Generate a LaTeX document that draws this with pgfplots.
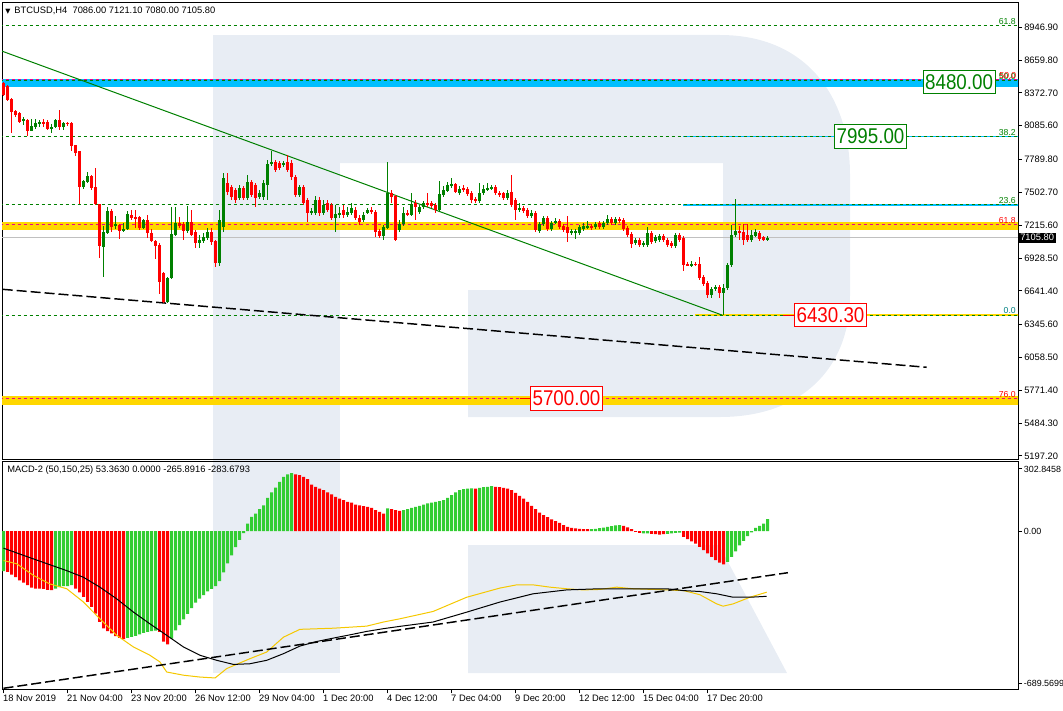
\documentclass[border=0pt]{standalone}
\usepackage{pgfplots}
\pgfplotsset{compat=1.18}
\usepackage{pgfplotstable}
\usepackage{fontspec}
\setmainfont{Liberation Sans}
\newfontfamily\symfont{DejaVu Sans}
\newfontfamily\narrowfont[FakeStretch=0.88]{Liberation Sans}

\definecolor{cgreen}{RGB}{0,128,0}
\definecolor{cred}{RGB}{255,0,0}
\definecolor{hgreen}{RGB}{50,205,50}
\definecolor{gold}{RGB}{255,215,0}
\definecolor{sig}{RGB}{245,200,0}
\definecolor{sky}{RGB}{0,191,255}
\definecolor{wm}{RGB}{232,237,244}
\definecolor{curgray}{RGB}{192,192,192}
\definecolor{fibteal}{RGB}{0,128,128}

% BTCUSD H4 candles: index, open, high, low, close
\pgfplotstableread{
i o h l c
0 8460 8468 8346 8355
1 8433 8442 8302 8311
2 8320 8328 8022 8206
3 8215 8224 8162 8180
4 8197 8206 8110 8118
5 8127 8162 8092 8145
6 8136 8145 7996 8040
7 8040 8145 8040 8084
8 8075 8145 8057 8110
9 8110 8136 8075 8118
10 8118 8145 8075 8101
11 8118 8136 8048 8057
12 8066 8101 8022 8075
13 8075 8145 8066 8136
14 8136 8224 8048 8075
15 8075 8118 8048 8110
16 8110 8118 8084 8101
17 8110 8118 7865 7908
18 7917 7917 7821 7847
19 7865 7865 7401 7550
20 7550 7611 7532 7602
21 7593 7681 7585 7646
22 7646 7655 7524 7541
23 7550 7716 7392 7401
24 7401 7401 6928 7034
25 7025 7209 6762 7156
26 7147 7375 7139 7340
27 7340 7357 7156 7200
28 7209 7296 7182 7226
29 7218 7226 7095 7165
30 7165 7235 7156 7182
31 7182 7340 7174 7314
32 7305 7348 7261 7278
33 7287 7348 7191 7270
34 7287 7296 7174 7191
35 7191 7270 7182 7261
36 7261 7305 7104 7147
37 7147 7182 7068 7077
38 7077 7086 6920 7034
39 7042 7060 6614 6718
40 6798 6806 6535 6543
41 6543 6762 6535 6754
42 6754 7375 6745 7139
43 7130 7375 7121 7235
44 7235 7287 7191 7209
45 7226 7244 7086 7165
46 7165 7384 7147 7244
47 7244 7348 7121 7130
48 7156 7174 7016 7060
49 7060 7130 7016 7086
50 7077 7147 7060 7112
51 7104 7191 7086 7156
52 7156 7191 7042 7068
53 7077 7086 6850 6885
54 6885 7348 6858 7261
55 7200 7672 7156 7628
56 7585 7672 7480 7506
57 7550 7567 7436 7462
58 7524 7541 7410 7436
59 7454 7567 7436 7541
60 7541 7558 7436 7454
61 7454 7655 7436 7593
62 7593 7611 7462 7480
63 7567 7585 7375 7454
64 7462 7524 7445 7497
65 7462 7611 7436 7585
66 7567 7786 7436 7751
67 7751 7865 7734 7768
68 7768 7786 7681 7698
69 7760 7777 7698 7716
70 7742 7777 7725 7760
71 7768 7830 7681 7698
72 7760 7786 7611 7637
73 7637 7655 7462 7480
74 7480 7567 7462 7550
75 7550 7567 7392 7410
76 7436 7454 7244 7322
77 7322 7366 7305 7340
78 7322 7471 7305 7436
79 7436 7462 7296 7322
80 7322 7436 7305 7392
81 7410 7436 7331 7348
82 7392 7410 7261 7278
83 7278 7392 7156 7314
84 7305 7375 7278 7322
85 7348 7392 7278 7305
86 7305 7375 7287 7331
87 7322 7410 7305 7366
88 7348 7375 7261 7278
89 7278 7305 7218 7244
90 7261 7331 7244 7305
91 7322 7366 7314 7348
92 7348 7375 7314 7331
93 7331 7348 7112 7156
94 7165 7182 7104 7121
95 7121 7218 7086 7200
96 7191 7768 7182 7497
97 7497 7524 7410 7462
98 7471 7480 7077 7086
99 7174 7261 7156 7226
100 7226 7375 7209 7322
101 7322 7348 7296 7314
102 7305 7497 7296 7401
103 7410 7436 7261 7375
104 7331 7392 7314 7375
105 7375 7427 7357 7410
106 7410 7497 7375 7392
107 7410 7427 7366 7384
108 7392 7410 7322 7348
109 7348 7602 7331 7488
110 7480 7558 7462 7524
111 7515 7593 7506 7567
112 7558 7628 7541 7576
113 7576 7585 7497 7506
114 7497 7558 7480 7532
115 7541 7567 7506 7524
116 7532 7550 7471 7488
117 7497 7515 7410 7436
118 7445 7462 7410 7427
119 7427 7585 7410 7497
120 7497 7567 7480 7532
121 7532 7585 7515 7541
122 7541 7567 7524 7550
123 7550 7567 7480 7497
124 7497 7515 7462 7480
125 7497 7506 7436 7454
126 7454 7524 7436 7497
127 7506 7655 7375 7392
128 7436 7454 7261 7348
129 7348 7410 7331 7366
130 7366 7384 7322 7340
131 7348 7366 7278 7296
132 7296 7348 7278 7322
133 7322 7340 7156 7174
134 7165 7244 7147 7226
135 7226 7296 7209 7278
136 7278 7296 7165 7182
137 7182 7252 7165 7235
138 7235 7278 7226 7252
139 7252 7270 7182 7200
140 7209 7226 7156 7174
141 7200 7296 7068 7147
142 7147 7182 7130 7165
143 7156 7182 7095 7165
144 7147 7218 7130 7200
145 7182 7235 7165 7209
146 7191 7252 7182 7209
147 7209 7226 7174 7191
148 7200 7244 7182 7226
149 7235 7252 7182 7200
150 7200 7252 7182 7235
151 7235 7305 7218 7270
152 7270 7287 7218 7235
153 7235 7287 7218 7270
154 7270 7287 7235 7252
155 7261 7278 7165 7182
156 7191 7209 7112 7130
157 7139 7156 7016 7051
158 7060 7104 7042 7086
159 7086 7104 7025 7042
160 7042 7077 7025 7060
161 7042 7200 7025 7147
162 7147 7165 7051 7068
163 7077 7130 7060 7112
164 7086 7139 7068 7121
165 7121 7139 7068 7086
166 7086 7104 7025 7042
167 7060 7077 7016 7034
168 7034 7147 7016 7130
169 7130 7147 7068 7086
170 7104 7121 6815 6868
171 6876 6893 6858 6868
172 6868 6902 6850 6876
173 6876 6890 6860 6870
174 6876 6937 6736 6754
175 6762 6780 6684 6701
176 6710 6728 6579 6605
177 6605 6675 6579 6658
178 6658 6692 6640 6675
179 6675 6692 6579 6622
180 6622 6701 6430.3 6666
181 6666 6885 6649 6868
182 6868 7218 6850 7130
183 7130 7445 7112 7165
184 7165 7209 7086 7147
185 7156 7226 7042 7086
186 7130 7226 7068 7086
187 7086 7174 7068 7130
188 7121 7182 7112 7156
189 7147 7165 7077 7095
190 7112 7121 7077 7086
191 7086 7121 7080 7105.8
}\candles

\pgfplotsset{
  panel/.style={
    scale only axis, width=762pt,
    xmin=-0.375, xmax=253.625,
    axis line style={line width=0.75pt},
    tick style={black, line width=0.75pt},
    tick align=outside, major tick length=3pt,
    ytick pos=right, yticklabel pos=right,
    yticklabel style={anchor=west, inner sep=0pt, xshift=1.5pt},
    ticklabel style={font=\fontsize{7}{8}\selectfont},
  },
  hline/.style={forget plot, line cap=butt},
  candle/.style={forget plot, draw=none, mark=none, restrict y to domain=0:20000,
    error bars/.cd, y dir=both, y explicit, error mark=none,
    error bar style={draw=#1}},
}

\begin{document}
\begin{tikzpicture}[font=\fontsize{7}{8}\selectfont]
\path[use as bounding box] (0,0) rectangle (797.25pt,-532.5pt);

% watermark logo, drawn in pixel units behind everything
\begin{scope}[x=0.75pt,y=-0.75pt]
\fill[wm] (213,35) rectangle (340,673);
\fill[wm] (340,35) -- (720,35) .. controls (805,35) and (850,95) .. (850,175)
  -- (850,295) .. controls (850,370) and (800,417) .. (720,417)
  -- (468,417) -- (468,290) -- (723,290) -- (723,163) -- (340,163) -- cycle;
\fill[wm] (468,545) -- (719,545) -- (787,673) -- (468,673) -- cycle;
\end{scope}

% ---------- price panel ----------
\begin{axis}[panel,
  at={(1.5pt,-1.875pt)}, anchor=north west, height=342.6pt,
  ymin=5168.2, ymax=9163.8,
  xtick=\empty,
  ytick={8946.9,8659.8,8372.7,8085.6,7789.8,7502.7,7215.6,6928.5,6641.4,6345.6,6058.5,5771.4,5484.3,5197.2},
  yticklabels={8946.90,8659.80,8372.70,8085.60,7789.80,7502.70,7215.60,6928.50,6641.40,6345.60,6058.50,5771.40,5484.30,5197.20},
]
% bands and levels
\addplot[hline, gold, line width=6.2pt] coordinates {(-1,7210) (260,7210)};
\addplot[hline, gold, line width=6.6pt] coordinates {(-1,5685) (260,5685)};
\addplot[hline, sky, line width=5.5pt] coordinates {(-1,8460) (260,8460)};
\addplot[hline, sky, line width=1.2pt] coordinates {(169.9,7993) (260,7993)};
\addplot[hline, sky, line width=1.2pt] coordinates {(169.9,7395) (260,7395)};
\addplot[hline, gold, line width=1.5pt] coordinates {(172.9,6430.3) (260,6430.3)};
\addplot[hline, curgray, line width=0.75pt] coordinates {(-1,7105.8) (260,7105.8)};
% fibonacci levels
\foreach \lv in {8962,8478,7995,7397,6430.3}{
  \addplot[hline, cgreen, line width=0.75pt, dash pattern=on 2.25pt off 2.25pt] coordinates {(-1,\lv) (260,\lv)};
}
\foreach \lv in {8492,7218,5702}{
  \addplot[hline, magenta, line width=0.75pt, dash pattern=on 2.25pt off 2.25pt] coordinates {(-1,\lv) (260,\lv)};
}
% trend lines
\addplot[hline, cgreen, line width=0.75pt] coordinates {(-0.5,8740) (179.6,6430.3)};
\addplot[hline, black, line width=1.1pt, dash pattern=on 7.5pt off 3pt] coordinates {(-0.2,6655) (230.8,5973)};
\addplot[hline, cred, line width=0.75pt] coordinates {(194.9,6430.3) (200,6430.3)};
\addplot[hline, cred, line width=0.75pt] coordinates {(129,5702) (135,5702)};

% candles: wicks, then bodies
\addplot[candle={cgreen, line width=0.75pt}]
  table[x=i, y expr={ifthenelse(\thisrow{c}>\thisrow{o},(\thisrow{h}+\thisrow{l})/2,100000)},
        y error expr={(\thisrow{h}-\thisrow{l})/2}] {\candles};
\addplot[candle={cred, line width=0.75pt}]
  table[x=i, y expr={ifthenelse(\thisrow{c}>\thisrow{o},100000,(\thisrow{h}+\thisrow{l})/2)},
        y error expr={(\thisrow{h}-\thisrow{l})/2}] {\candles};
\addplot[candle={cgreen, line width=2.25pt}]
  table[x=i, y expr={ifthenelse(\thisrow{c}>\thisrow{o},(\thisrow{o}+\thisrow{c})/2,100000)},
        y error expr={max(abs(\thisrow{c}-\thisrow{o})/2,4.5)}] {\candles};
\addplot[candle={cred, line width=2.25pt}]
  table[x=i, y expr={ifthenelse(\thisrow{c}>\thisrow{o},100000,(\thisrow{o}+\thisrow{c})/2)},
        y error expr={max(abs(\thisrow{c}-\thisrow{o})/2,4.5)}] {\candles};

% level captions
\begin{scope}[every node/.style={anchor=south east, inner sep=0.5pt, font=\fontsize{6.5}{7}\selectfont}]
\node[text=cgreen] at (axis cs:253.3,8962) {61.8};
\node[text=cgreen] at (axis cs:253.3,8478) {50.0};
\node[text=cred, xshift=0.4pt, yshift=1pt] at (axis cs:253.3,8478) {50.0};
\node[text=cgreen] at (axis cs:253.3,7995) {38.2};
\node[text=cgreen] at (axis cs:253.3,7397) {23.6};
\node[text=cred] at (axis cs:253.3,7218) {61.8};
\node[text=fibteal] at (axis cs:253.3,6430.3) {0.0};
\node[text=cred] at (axis cs:253.3,5702) {76.0};
\end{scope}
\begin{scope}[every node/.style={fill=white, line width=0.75pt, inner xsep=1.5pt, inner ysep=3.2pt,
    font=\narrowfont\fontsize{16}{16}\selectfont}]
\node[draw=cgreen, text=cgreen] at (axis cs:238.9,8468) {8480.00};
\node[draw=cgreen, text=cgreen] at (axis cs:216.75,7991) {7995.00};
\node[draw=cred, text=cred] at (axis cs:206.75,6430.3) {6430.30};
\node[draw=cred, text=cred] at (axis cs:140.75,5702) {5700.00};
\end{scope}
\coordinate (cp) at (axis cs:253.625,7105.8);
\end{axis}

\node[anchor=west, fill=black, text=white, inner xsep=1.5pt, inner ysep=1.2pt] at (cp) {7105.80};

% ---------- MACD panel ----------
\begin{axis}[panel,
  at={(1.5pt,-346.3pt)}, anchor=north west, height=170.7pt,
  ymin=-689.5699, ymax=302.8458,
  xtick={0,16,...,176},
  xticklabels={18 Nov 2019,21 Nov 04:00,23 Nov 20:00,26 Nov 12:00,29 Nov 04:00,1 Dec 20:00,4 Dec 12:00,7 Dec 04:00,9 Dec 20:00,12 Dec 12:00,15 Dec 04:00,17 Dec 20:00},
  xtick pos=bottom,
  xticklabel style={anchor=north west, inner sep=0pt, xshift=-0.4pt, yshift=-1.2pt},
  ytick={271.2,0,-662},
  yticklabels={302.8458,0.00,-689.5699},
  yticklabel style={xshift=-0.3pt, font=\fontsize{6.7}{8}\selectfont},
]
\addplot[ybar, bar width=2.25pt, bar shift=0pt, fill=hgreen, draw=none, forget plot] coordinates {
(0,-174) (13,-250) (14,-244) (15,-240) (16,-240) (17,-235)
(31,-465) (32,-461) (33,-456) (34,-450) (35,-443) (36,-439) (37,-436) (38,-434)
(42,-468) (43,-432) (44,-410) (45,-385) (46,-360) (47,-335) (48,-312) (49,-294) (50,-279)
(51,-262) (52,-252) (53,-240) (54,-218) (55,-180) (56,-140) (57,-105) (58,-70) (59,-38) (60,-8)
(61,33) (62,62) (63,77) (64,96) (65,113) (66,145) (67,169) (68,190) (69,215) (70,237) (71,248) (72,253)
(96,99)
(100,92) (101,96) (102,102) (103,106) (104,110) (105,116) (106,121) (107,125) (108,128) (109,131)
(110,135) (111,145) (112,157) (113,169) (114,179) (115,183) (116,186) (117,187)
(119,189) (120,192) (121,193) (122,196)
(147,9) (148,10) (149,13) (150,16) (151,19) (152,22) (153,25) (154,26)
(160,-9) (161,-10) (166,-12) (167,-10) (168,-7) (169,-6)
(181,-134) (182,-112) (183,-88) (184,-62) (185,-42) (186,-22) (187,-5) (188,14) (189,23) (190,33) (191,53)
};
\addplot[ybar, bar width=2.25pt, bar shift=0pt, fill=cred, draw=none, forget plot] coordinates {
(1,-177) (2,-189) (3,-200) (4,-214) (5,-224) (6,-235) (7,-246) (8,-250) (9,-250) (10,-251) (11,-256) (12,-257)
(18,-250) (19,-267) (20,-286) (21,-308) (22,-330) (23,-359) (24,-395) (25,-424) (26,-436) (27,-446) (28,-458) (29,-465) (30,-471)
(39,-439) (40,-482) (41,-493)
(73,248) (74,244) (75,237) (76,227) (77,203) (78,193) (79,186) (80,179) (81,169) (82,161) (83,150) (84,142)
(85,135) (86,128) (87,125) (88,116) (89,113) (90,109) (91,106) (92,102) (93,92) (94,84) (95,77)
(97,96) (98,92) (99,89)
(118,186)
(123,193) (124,192) (125,189) (126,186) (127,179) (128,167) (129,154) (130,142) (131,128) (132,110) (133,96) (134,81)
(135,70) (136,61) (137,52) (138,44) (139,36) (140,26) (141,19) (142,15) (143,12) (144,10) (145,9) (146,9)
(155,23) (156,17) (157,9) (158,-3) (159,-7)
(162,-12) (163,-13) (164,-15) (165,-13)
(170,-25) (171,-35) (172,-44) (173,-54) (174,-68) (175,-83) (176,-97) (177,-112) (178,-126) (179,-137) (180,-145)
};
% signal line (gold) and main line (black)
\addplot[sig, line width=0.75pt, forget plot] coordinates {
(0,-128) (3.3,-142) (7.5,-193) (11.6,-230) (15.8,-251) (20,-309) (24.1,-382) (28.3,-454) (32.5,-505)
(36.6,-541) (39.1,-570) (40.8,-614) (45,-628) (49.1,-636) (52.9,-640) (55.8,-599) (61.6,-556) (65.8,-527)
(70,-462) (74.1,-428) (82.5,-423) (90.8,-414) (95,-396) (99.1,-382) (107.4,-350) (115.8,-288) (124.1,-248)
(128.3,-234) (132.4,-234) (136.6,-244) (140.8,-251) (144.9,-256) (149.1,-254) (153.3,-244) (157.4,-251)
(165.8,-256) (170,-259) (174.1,-277) (178.3,-317) (179.9,-327) (182.4,-317) (186.6,-288) (190.8,-266)
};
\addplot[black, line width=0.75pt, forget plot] coordinates {
(0,-74) (7.5,-121) (15.8,-172) (20,-201) (24.1,-244) (28.3,-295) (32.5,-353) (36.6,-404) (40.8,-454)
(45,-505) (49.1,-541) (53.3,-563) (57.5,-581) (61.6,-578) (65.8,-563) (70,-534) (74.1,-501) (78.3,-481)
(82.5,-466) (86.6,-452) (90.8,-437) (95,-425) (99.1,-415) (107.4,-396) (115.8,-353) (124.1,-309)
(132.4,-273) (140.8,-256) (149.1,-251) (157.4,-251) (165.8,-251) (170,-259) (174.1,-263) (178.3,-273)
(182.4,-288) (186.6,-288) (190.8,-284)
};
\addplot[black, line width=1.1pt, dash pattern=on 7.5pt off 3pt, forget plot] coordinates {(0,-685) (196.1,-181)};
\end{axis}

% panel captions
\begin{scope}[x=0.75pt,y=-0.75pt]
\node[anchor=west, inner sep=0pt] at (5,10.5) {{\symfont\fontsize{5}{6}\selectfont ▼}\hspace{3pt}BTCUSD,H4\hspace{4pt}7086.00 7121.10 7080.00 7105.80};
\node[anchor=west, inner sep=0pt] at (7,470.5) {MACD-2 (50,150,25) 53.3630 0.0000 -265.8916 -283.6793};
\end{scope}
\end{tikzpicture}
\end{document}
